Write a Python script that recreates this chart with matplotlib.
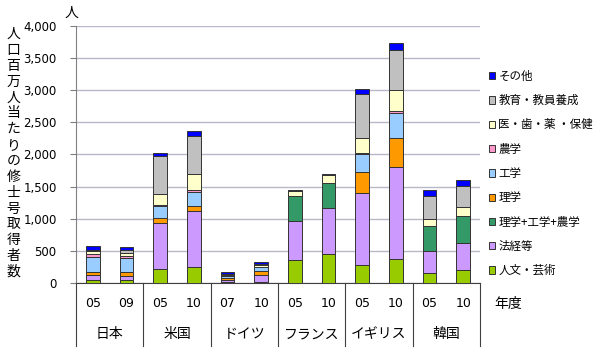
import matplotlib
matplotlib.use("Agg")
import matplotlib.pyplot as plt
import matplotlib.transforms as mtransforms
import numpy as np

plt.rcParams['font.family'] = ['Noto Sans CJK JP', 'DejaVu Sans']

# data (people per million population)
countries = ['日本', '米国', 'ドイツ', 'フランス', 'イギリス', '韓国']
years = ['05', '09', '05', '10', '07', '10', '05', '10', '05', '10', '05', '10']

series_names = ['人文・芸術', '法経等', '理学+工学+農学', '理学', '工学', '農学',
                '医・歯・薬 ・保健', '教育・教員養成', 'その他']
series_colors = ['#99CC00', '#CC99FF', '#339966', '#FF9900', '#99CCFF', '#FF99CC',
                 '#FFFFCC', '#C0C0C0', '#0000FF']

humanities = [50, 50, 223, 249, 12, 22, 363, 456, 275, 368, 156, 197]
law_econ = [73, 62, 711, 871, 40, 110, 607, 711, 1131, 1437, 348, 420]
sci_eng_agr = [0, 0, 0, 0, 0, 0, 378, 389, 0, 0, 384, 420]
science = [55, 55, 73, 83, 30, 50, 0, 0, 327, 446, 0, 0]
engineering = [233, 225, 187, 218, 30, 60, 0, 0, 275, 389, 0, 0]
agriculture = [40, 30, 25, 20, 10, 10, 0, 0, 20, 31, 0, 0]
medical = [50, 45, 166, 254, 15, 25, 78, 119, 223, 332, 114, 145]
education = [20, 45, 586, 597, 10, 20, 0, 0, 690, 617, 358, 321]
other = [50, 50, 50, 67, 18, 30, 15, 25, 78, 109, 88, 99]

series = [humanities, law_econ, sci_eng_agr, science, engineering, agriculture,
          medical, education, other]

fig = plt.figure(figsize=(6, 3.6), dpi=100)
ax = fig.add_axes([0.1267, 0.2139, 0.6733, 0.7139])

x = np.arange(len(years))
bottom = np.zeros(len(years))
handles = []
for name, vals, col in zip(series_names, series, series_colors):
    vals = np.array(vals, dtype=float)
    b = ax.bar(x, vals, 0.4, bottom=bottom, color=col, edgecolor='#333333',
               linewidth=0.7, label=name, zorder=3)
    handles.append(b)
    bottom += vals

ax.set_xlim(-0.5, len(years) - 0.5)
ax.set_ylim(0, 4000)
ax.set_yticks(np.arange(0, 4001, 500))
ax.set_yticklabels(['{:,}'.format(v) for v in range(0, 4001, 500)], fontsize=8.5,
                   family='DejaVu Sans')
ax.yaxis.grid(True, color='#B8B8C8', linewidth=1, zorder=0)
ax.tick_params(axis='y', length=4, color='#808080', pad=10)
ax.set_xticks([])
for s in ['top', 'right']:
    ax.spines[s].set_visible(False)
ax.spines['left'].set_color('#808080')
ax.spines['bottom'].set_color('#404040')

# category table below the axis
trans = mtransforms.blended_transform_factory(ax.transData, ax.transAxes)
for i, yr in enumerate(years):
    ax.text(i, -0.08, yr, transform=trans, ha='center', va='center', fontsize=9,
            family='DejaVu Sans')
for g, c in enumerate(countries):
    ax.text(2 * g + 0.5, -0.2, c, transform=trans, ha='center', va='center',
            fontsize=10)
for g in range(len(countries) + 1):
    ax.plot([2 * g - 0.5, 2 * g - 0.5], [0, -0.245], transform=trans, color='#404040',
            linewidth=0.8, clip_on=False)
ax.text(1.07, -0.08, '年度', transform=ax.transAxes, ha='center', va='center',
        fontsize=10)

ax.text(-0.012, 1.05, '人', transform=ax.transAxes, ha='center', va='center',
        fontsize=10)
fig.text(0.022, 0.575, '\n'.join('人口百万人当たりの修士号取得者数'), ha='center',
         va='center', fontsize=10, linespacing=1.17)

leg = fig.legend(handles[::-1], series_names[::-1], loc='upper left',
                 bbox_to_anchor=(0.797, 0.835), frameon=False, fontsize=8.3,
                 handlelength=0.6, handleheight=0.6, handletextpad=0.25,
                 labelspacing=0.98)

fig.savefig('out.png', dpi=100)
